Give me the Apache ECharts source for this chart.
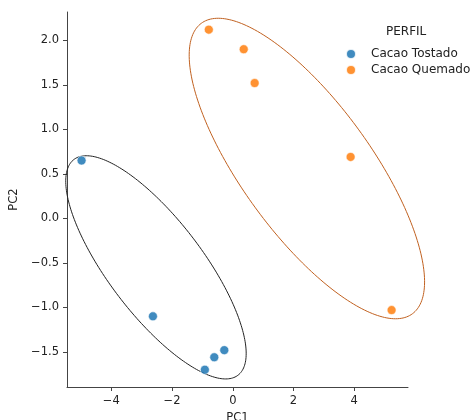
<!DOCTYPE html>
<html>
<head>
<meta charset="utf-8">
<script src="https://cdn.jsdelivr.net/npm/echarts@6.0.0/dist/echarts.min.js"></script>
<style>
  html, body { margin: 0; padding: 0; background: #fff; }
  #chart { width: 474px; height: 420px; }
</style>
</head>
<body>
<div id="chart"></div>
<script>
// datos PCA
const grupos = ['Cacao Tostado', 'Cacao Quemado']
const tostadoPC1 = [-4.98, -2.63, -0.28, -0.61, -0.92]
const tostadoPC2 = [0.65, -1.10, -1.48, -1.56, -1.70]
const quemadoPC1 = [-0.79, 0.36, 0.72, 3.88, 5.23]
const quemadoPC2 = [2.12, 1.90, 1.52, 0.69, -1.03]

// elipses (centro, ancho, alto, angulo en grados)
const elipseCentros = [[-2.53, -0.55], [2.44, 0.56]]
const elipseAnchos = [6.27, 8.19]
const elipseAltos = [1.51, 2.10]
const elipseAngulos = [-19.2, -19.5]

const ticksX = [-4, -2, 0, 2, 4]
const ticksY = [-1.5, -1.0, -0.5, 0.0, 0.5, 1.0, 1.5, 2.0]

const colores = ['#1f77b4', '#ff7f0e']
const coloresElipse = ['#222222', '#c0601f']

const zip = (xs, ys) => xs.map((x, i) => [x, ys[i]])

// contorno de una elipse en coordenadas de datos
const elipse = (c, w, h, ang, n = 240) => {
  const a = w / 2, b = h / 2, t = ang * Math.PI / 180
  const pts = []
  for (let i = 0; i <= n; i++) {
    const s = i / n * 2 * Math.PI
    const ex = a * Math.cos(s), ey = b * Math.sin(s)
    pts.push([c[0] + ex * Math.cos(t) - ey * Math.sin(t), c[1] + ex * Math.sin(t) + ey * Math.cos(t)])
  }
  return pts
}

const menos = v => String(v).replace('-', '\u2212')
const font = 'DejaVu Sans'

const chart = echarts.init(document.getElementById('chart'))

const ejeComun = {
  type: 'value',
  nameLocation: 'middle',
  nameTextStyle: { color: '#222', fontSize: 11.5, fontFamily: font },
  splitLine: { show: false },
  axisLine: { show: true, onZero: false, lineStyle: { color: '#444', width: 1 } },
  axisTick: { show: true, length: 4, lineStyle: { color: '#444' } },
}

chart.setOption({
  animation: false,
  grid: { left: 67, right: 66, top: 12, bottom: 33, outerBoundsMode: 'none' },
  xAxis: {
    ...ejeComun,
    name: 'PC1',
    nameGap: 23,
    min: -5.46,
    max: 5.77,
    axisTick: { ...ejeComun.axisTick, customValues: ticksX },
    axisLabel: {
      customValues: ticksX,
      margin: 8,
      color: '#222', fontSize: 11.5, fontFamily: font,
      formatter: v => menos(v),
    },
  },
  yAxis: {
    ...ejeComun,
    name: 'PC2',
    nameGap: 47,
    min: -1.894,
    max: 2.318,
    axisTick: { ...ejeComun.axisTick, customValues: ticksY },
    axisLabel: {
      customValues: ticksY,
      margin: 8,
      color: '#222', fontSize: 11.5, fontFamily: font,
      formatter: v => menos(v.toFixed(1)),
    },
  },
  legend: {
    data: grupos,
    orient: 'vertical',
    left: 340,
    top: 43,
    icon: 'circle',
    itemWidth: 30,
    itemHeight: 10,
    itemGap: 4,
    textStyle: { color: '#222', fontSize: 12, fontFamily: font },
  },
  graphic: [{
    type: 'text',
    left: 386,
    top: 26,
    style: { text: 'PERFIL', fill: '#222', fontSize: 12, fontFamily: font },
  }],
  series: [
    // elipses como serie custom para que no se recorten en el borde del grid
    {
      type: 'custom',
      data: elipseCentros.map((c, i) => [c[0], c[1], i]),
      clip: false,
      silent: true,
      z: 1,
      renderItem: (params, api) => {
        const i = params.dataIndex
        const pts = elipse(elipseCentros[i], elipseAnchos[i], elipseAltos[i], elipseAngulos[i])
        return {
          type: 'polyline',
          shape: { points: pts.map(p => api.coord(p)) },
          style: { stroke: coloresElipse[i], lineWidth: 1, fill: null },
        }
      },
    },
    {
      name: grupos[0],
      type: 'scatter',
      data: zip(tostadoPC1, tostadoPC2),
      symbolSize: 9,
      z: 3,
      itemStyle: { color: colores[0], opacity: 0.85, borderColor: '#fff', borderWidth: 0.7 },
    },
    {
      name: grupos[1],
      type: 'scatter',
      data: zip(quemadoPC1, quemadoPC2),
      symbolSize: 9,
      z: 3,
      itemStyle: { color: colores[1], opacity: 0.85, borderColor: '#fff', borderWidth: 0.7 },
    },
  ],
})
</script>
</body>
</html>
